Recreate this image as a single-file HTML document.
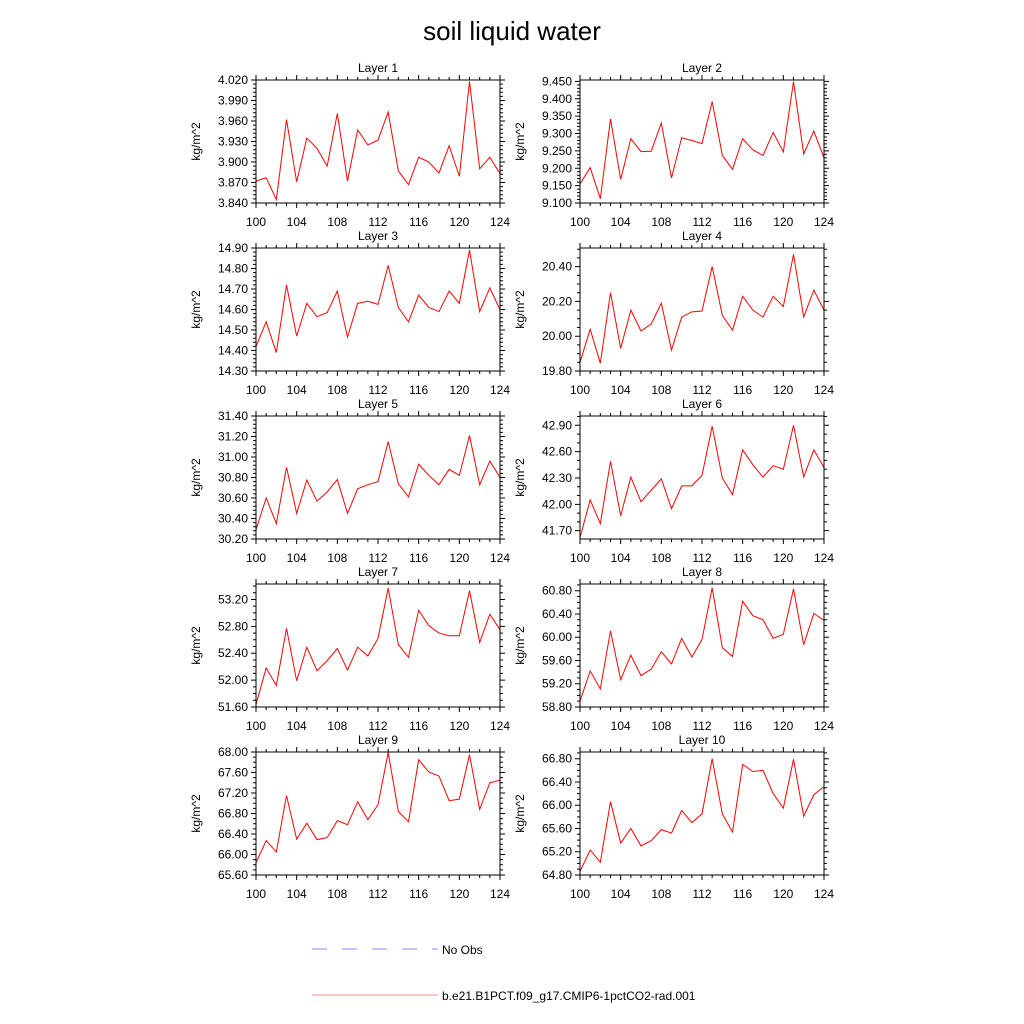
<!DOCTYPE html>
<html><head><meta charset="utf-8"><style>
body{margin:0;background:#fff;}
svg{display:block;font-family:"Liberation Sans",Arial,sans-serif;}
</style></head><body>
<svg id="chart" width="1024" height="1024" viewBox="0 0 1024 1024">
<rect width="1024" height="1024" fill="#fff"/>
<text x="512" y="40" font-size="26" text-anchor="middle">soil liquid water</text>
<g id="panels"></g>
<g>
<line x1="312" y1="949" x2="438" y2="949" stroke="#8888ff" stroke-width="1" stroke-dasharray="15,15"/>
<text x="442" y="954" font-size="12">No Obs</text>
<line x1="312" y1="995" x2="438" y2="995" stroke="#ff8888" stroke-width="1"/>
<text x="442" y="1000" font-size="12">b.e21.B1PCT.f09_g17.CMIP6-1pctCO2-rad.001</text>
</g>
</svg>
<script>
const years = [100,101,102,103,104,105,106,107,108,109,110,111,112,113,114,115,116,117,118,119,120,121,122,123,124];
const xTicks = [100,104,108,112,116,120,124];
const layer1 = [3.872,3.877,3.845,3.962,3.871,3.935,3.920,3.894,3.971,3.872,3.947,3.925,3.932,3.973,3.887,3.867,3.907,3.900,3.884,3.924,3.879,4.018,3.890,3.907,3.883];
const layer2 = [9.155,9.202,9.112,9.342,9.168,9.285,9.248,9.249,9.330,9.172,9.288,9.280,9.271,9.392,9.237,9.197,9.285,9.253,9.237,9.303,9.247,9.450,9.241,9.307,9.230];
const layer3 = [14.42,14.54,14.39,14.72,14.47,14.63,14.565,14.585,14.69,14.465,14.63,14.64,14.625,14.815,14.61,14.54,14.67,14.61,14.59,14.69,14.63,14.89,14.59,14.705,14.60];
const layer4 = [19.85,20.04,19.845,20.25,19.93,20.15,20.03,20.07,20.19,19.92,20.11,20.14,20.145,20.40,20.12,20.035,20.23,20.15,20.11,20.23,20.17,20.47,20.11,20.265,20.15];
const layer5 = [30.29,30.60,30.35,30.90,30.45,30.775,30.57,30.66,30.78,30.45,30.69,30.73,30.76,31.15,30.74,30.61,30.93,30.82,30.73,30.88,30.82,31.21,30.73,30.96,30.80];
const layer6 = [41.62,42.05,41.78,42.49,41.87,42.31,42.03,42.16,42.29,41.95,42.21,42.21,42.33,42.89,42.30,42.11,42.62,42.45,42.31,42.44,42.40,42.90,42.31,42.62,42.42];
const layer7 = [51.64,52.18,51.92,52.77,51.99,52.49,52.14,52.29,52.47,52.15,52.49,52.36,52.62,53.37,52.53,52.34,53.04,52.81,52.70,52.66,52.66,53.33,52.56,52.98,52.75];
const layer8 = [58.90,59.42,59.11,60.11,59.27,59.69,59.34,59.45,59.75,59.54,59.98,59.66,59.96,60.85,59.82,59.67,60.62,60.37,60.30,59.98,60.05,60.83,59.87,60.41,60.29];
const layer9 = [65.84,66.27,66.05,67.15,66.30,66.61,66.29,66.33,66.66,66.58,67.03,66.68,66.97,67.99,66.84,66.64,67.85,67.61,67.53,67.05,67.08,67.95,66.88,67.40,67.45];
const layer10 = [64.86,65.23,65.02,66.06,65.35,65.60,65.30,65.39,65.58,65.52,65.91,65.70,65.85,66.80,65.85,65.54,66.70,66.58,66.60,66.20,65.95,66.79,65.81,66.18,66.32];
const yRanges = [[3.84,4.02],[9.1,9.454],[14.3,14.9],[19.8,20.507],[30.2,31.4],[41.605,43.006],[51.6,53.43],[58.8,60.915],[65.6,68.0],[64.8,66.915]];
const yTickStarts = [3.84,9.1,14.3,19.8,30.2,41.7,51.6,58.8,65.6,64.8];
const yTickSteps = [0.03,0.05,0.1,0.2,0.2,0.3,0.4,0.4,0.4,0.4];
const yTickDecimals = [3,3,2,2,2,2,2,2,2,2];
const yMinorCounts = [5,5,5,4,5,3,4,4,4,4];
const series = [layer1,layer2,layer3,layer4,layer5,layer6,layer7,layer8,layer9,layer10];

const NS='http://www.w3.org/2000/svg';
const root=document.getElementById('panels');
function mk(tag,attrs,parent){const e=document.createElementNS(NS,tag);for(const k in attrs)e.setAttribute(k,attrs[k]);parent.appendChild(e);return e;}

series.forEach((vals,i)=>{
  const col=i%2,row=Math.floor(i/2);
  const L=col?580:256,R=col?824:500,T=80+row*168,B=T+123;
  const [ymin,ymax]=yRanges[i];
  const xs=v=>L+(v-100)/(124-100)*(R-L);
  const ys=v=>B-(v-ymin)/(ymax-ymin)*(B-T);
  const g=mk('g',{},root);
  
  
  const t=mk('text',{x:(L+R)/2,y:T-8,'font-size':12,'text-anchor':'middle'},g);
  
  
  t.textContent='Layer '+(i+1);
  const yl=mk('text',{x:0,y:0,'font-size':12,'text-anchor':'middle',transform:`translate(${L-56},${(T+B)/2}) rotate(-90)`},g);
  
  
  yl.textContent='kg/m^2';
  // x ticks
  for(let v=100;v<=124;v++){
    const major=xTicks.includes(v);const len=major?5:3;const x=xs(v);
    const tk=mk('path',{d:`M${x},${B}v${len}M${x},${T}v${-len}`,stroke:'#000','stroke-width':1},g);
    
    
  }
  xTicks.forEach(v=>{
    const lb=mk('text',{x:xs(v),y:B+23,'font-size':12,'text-anchor':'middle'},g);
    
    
    lb.textContent=v;
  });
  // y ticks
  const step=yTickSteps[i],mc=yMinorCounts[i],ms=step/mc;
  const start=yTickStarts[i]-Math.ceil((yTickStarts[i]-ymin)/ms)*ms;
  for(let k=0;;k++){
    const v=start+k*ms; if(v>ymax+1e-9)break; if(v<ymin-1e-9)continue;
    const rel=Math.round((v-yTickStarts[i])/ms);
    const major=rel%mc===0&&rel>=0;
    const y=ys(v),len=major?5:3;
    const tk=mk('path',{d:`M${L},${y}h${-len}M${R},${y}h${len}`,stroke:'#000','stroke-width':1},g);
    
    
    if(major){
      const lb=mk('text',{x:L-8,y:y+4,'font-size':12,'text-anchor':'end'},g);
      
      
      lb.textContent=v.toFixed(yTickDecimals[i]);
    }
  }
  const ln=mk('polyline',{points:vals.map((v,j)=>xs(years[j]).toFixed(2)+','+ys(v).toFixed(2)).join(' '),fill:'none',stroke:'#ff0000','stroke-width':1},g);
  
  
  const fr=mk('rect',{x:L,y:T,width:R-L,height:B-T,fill:'none',stroke:'#000','stroke-width':1},g);
  
  
});
</script>
</body></html>
